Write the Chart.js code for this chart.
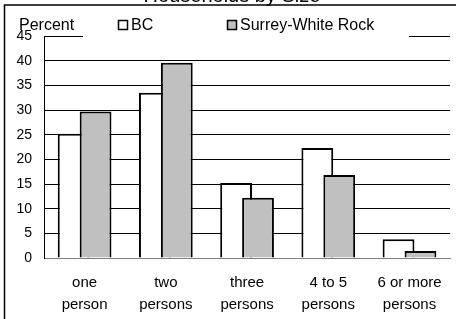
<!DOCTYPE html>
<html>
<head>
<meta charset="utf-8">
<script src="https://cdn.jsdelivr.net/npm/chart.js@4/dist/chart.umd.min.js"></script>
<style>
  html, body { margin: 0; padding: 0; background: #fff; }
  canvas { display: block; }
</style>
</head>
<body>
<canvas id="sizeChart" width="456" height="319"></canvas>
<script>
const chartTitle = 'Households by Size';
const axisCaption = 'Percent';
const categories = [['one', 'person'], ['two', 'persons'], ['three', 'persons'], ['4 to 5', 'persons'], ['6 or more', 'persons']];
const seriesNames = ['BC', 'Surrey-White Rock'];
const bcValues = [25.2, 33.5, 15.2, 22.3, 3.8];
const surreyValues = [29.7, 39.6, 12.2, 16.8, 1.4];
const yTicks = [0, 5, 10, 15, 20, 25, 30, 35, 40, 45];

const FONT = '"Liberation Sans", Arial, sans-serif';

// frame + cut-off title behind everything
const framePlugin = {
  id: 'frame',
  beforeDraw(chart) {
    const ctx = chart.ctx;
    ctx.save();
    ctx.fillStyle = '#fff';
    ctx.fillRect(0, 0, chart.width, chart.height);
    ctx.fillStyle = '#000';
    ctx.font = '20px ' + FONT;
    ctx.textAlign = 'center';
    ctx.textBaseline = 'alphabetic';
    ctx.fillText(chartTitle, 232, 2);
    ctx.strokeStyle = '#000';
    ctx.lineWidth = 1.5;
    ctx.beginPath();
    ctx.moveTo(chart.width, 5);
    ctx.lineTo(4.5, 5);
    ctx.lineTo(4.5, chart.height);
    ctx.stroke();
    ctx.restore();
  }
};

// draw BC first so the grey bars sit on top of it
const overlapPlugin = {
  id: 'overlap',
  beforeDatasetsDraw(chart) {
    chart.data.datasets.forEach((ds, i) => {
      const meta = chart.getDatasetMeta(i);
      if (meta.visible !== false) meta.controller.draw();
    });
    return false;
  }
};

// legend box sitting over the top gridline, plus the "Percent" caption
const legendPlugin = {
  id: 'boxLegend',
  afterDraw(chart) {
    const ctx = chart.ctx;
    ctx.save();
    ctx.fillStyle = '#fff';
    ctx.fillRect(83, 32, 326, 8);
    ctx.font = '16px ' + FONT;
    ctx.textBaseline = 'alphabetic';
    ctx.textAlign = 'left';
    ctx.fillStyle = '#000';
    ctx.fillText(axisCaption, 19, 30);
    const spots = [118, 227];
    chart.data.datasets.forEach((ds, i) => {
      const x = spots[i];
      ctx.fillStyle = ds.backgroundColor;
      ctx.fillRect(x, 20, 10, 10);
      ctx.strokeStyle = '#000';
      ctx.lineWidth = 1.5;
      ctx.strokeRect(x + 0.5, 20.5, 9, 9);
      ctx.fillStyle = '#000';
      ctx.fillText(ds.label, x + 13, 30);
    });
    ctx.restore();
  }
};

const ctx = document.getElementById('sizeChart').getContext('2d');
const sizeChart = new Chart(ctx, {
  type: 'bar',
  data: {
    labels: categories,
    datasets: [{
      label: seriesNames[0],
      data: bcValues,
      backgroundColor: '#ffffff',
      borderColor: '#000000',
      borderWidth: 2
    }, {
      label: seriesNames[1],
      data: surreyValues,
      backgroundColor: '#c0c0c0',
      borderColor: '#000000',
      borderWidth: 2
    }]
  },
  options: {
    responsive: false,
    animation: false,
    devicePixelRatio: 1,
    categoryPercentage: 0.54,
    barPercentage: 1.45,
    layout: { padding: { left: 16, right: 4, top: 36, bottom: 3.5 } },
    plugins: {
      legend: { display: false },
      title: { display: false },
      tooltip: { enabled: false }
    },
    scales: {
      x: {
        afterFit(scale) { scale.height = 57.5; },
        grid: { display: false, drawTicks: false },
        border: { display: true, color: '#808080', width: 1 },
        ticks: {
          color: '#000',
          padding: 14,
          maxRotation: 0,
          autoSkip: false,
          font: { family: FONT, size: 15, lineHeight: 1.45 }
        }
      },
      y: {
        min: 0,
        max: 45,
        afterFit(scale) { scale.width = 28; },
        afterBuildTicks(scale) { scale.ticks = yTicks.map(v => ({ value: v })); },
        grid: {
          drawTicks: false,
          color: c => (c.tick && c.tick.value === 0 ? '#808080' : '#000'),
          lineWidth: 1
        },
        border: { display: true, color: '#000', width: 1 },
        ticks: {
          color: '#000',
          padding: 12,
          font: { family: FONT, size: 14 }
        }
      }
    }
  },
  plugins: [framePlugin, overlapPlugin, legendPlugin]
});
</script>
</body>
</html>
